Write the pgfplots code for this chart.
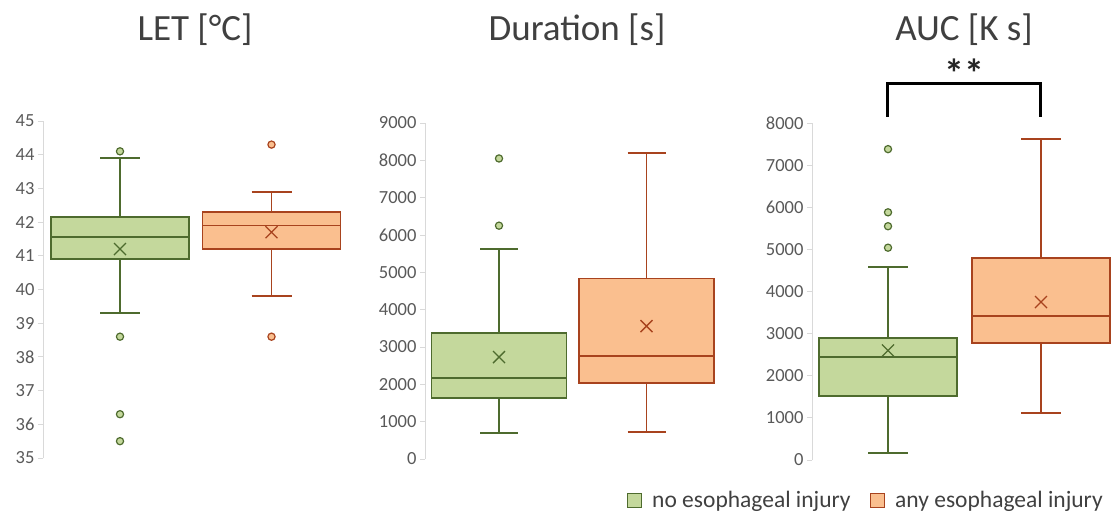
\documentclass[border=0pt]{standalone}
\usepackage{fontspec}
\setmainfont{Carlito}
\usepackage{pgfplots}
\pgfplotsset{compat=1.18}
\definecolor{gFill}{HTML}{C4D89C}
\definecolor{gEdge}{HTML}{4E6B2E}
\definecolor{oFill}{HTML}{FABF8F}
\definecolor{oEdge}{HTML}{A8431E}
\definecolor{tickgray}{HTML}{595959}
\definecolor{axgray}{HTML}{D9D9D9}
\definecolor{titlegray}{HTML}{404040}
\pgfplotsset{
  panel/.style={
    scale only axis,
    anchor=south west,
    axis x line=none,
    axis y line*=left,
    y axis line style={draw=axgray, line width=1bp},
    ytick style={draw=axgray, line width=1bp},
    tick align=outside,
    major tick length=5bp,
    xmin=0,
    enlarge x limits=false,
    clip=false,
    /pgf/number format/assume math mode=true,
    /pgf/number format/1000 sep={},
    yticklabel style={font=\fontsize{18.5bp}{20bp}\selectfont, text=tickgray},
  },
  gbox/.style={draw=gEdge, fill=gFill, line width=1.6bp, solid, mark=none},
  obox/.style={draw=oEdge, fill=oFill, line width=1.6bp, solid, mark=none},
  gline/.style={draw=gEdge, line width=1.6bp, solid, mark=none},
  oline/.style={draw=oEdge, line width=1.6bp, solid, mark=none},
  gmean/.style={only marks, mark=x, mark size=8.5bp, draw=gEdge, line width=1.3bp},
  omean/.style={only marks, mark=x, mark size=8.5bp, draw=oEdge, line width=1.3bp},
  gout/.style={only marks, mark=*, mark size=3.6bp, draw=gEdge, fill=gFill, line width=1.2bp},
  oout/.style={only marks, mark=*, mark size=3.6bp, draw=oEdge, fill=oFill, line width=1.2bp},
}
\begin{document}
\begin{tikzpicture}
\path[use as bounding box] (0,0) rectangle (1111bp,-515bp);

% ---------- LET ----------  (centres 77, 228.5; half box 69; half cap 20)
\begin{axis}[panel, at={(43bp,-458bp)}, width=306bp, height=337bp,
  xmax=306, ymin=35, ymax=45, ytick distance=1]
% no esophageal injury
\addplot[gline] coordinates {(77,42.15) (77,43.9)};
\addplot[gline] coordinates {(57,43.9) (97,43.9)};
\addplot[gline] coordinates {(77,40.9) (77,39.3)};
\addplot[gline] coordinates {(57,39.3) (97,39.3)};
\addplot[gbox] coordinates {(8,40.9) (146,40.9) (146,42.15) (8,42.15)} -- cycle;
\addplot[gline] coordinates {(8,41.55) (146,41.55)};
% any esophageal injury
\addplot[oline] coordinates {(228.5,42.3) (228.5,42.9)};
\addplot[oline] coordinates {(208.5,42.9) (248.5,42.9)};
\addplot[oline] coordinates {(228.5,41.2) (228.5,39.8)};
\addplot[oline] coordinates {(208.5,39.8) (248.5,39.8)};
\addplot[obox] coordinates {(159.5,41.2) (297.5,41.2) (297.5,42.3) (159.5,42.3)} -- cycle;
\addplot[oline] coordinates {(159.5,41.9) (297.5,41.9)};
\addplot[gmean] coordinates {(77,41.2)};
\addplot[omean] coordinates {(228.5,41.7)};
\addplot[gout] coordinates {(77,44.1) (77,38.6) (77,36.3) (77,35.5)};
\addplot[oout] coordinates {(228.5,44.3) (228.5,38.6)};
\end{axis}

% ---------- Duration ----------  (centres 74, 221.5; half box 67.5; half cap 19)
\begin{axis}[panel, at={(425bp,-459bp)}, width=297bp, height=336bp,
  xmax=297, ymin=0, ymax=9000, ytick distance=1000]
\addplot[gline] coordinates {(74,3380) (74,5630)};
\addplot[gline] coordinates {(55,5630) (93,5630)};
\addplot[gline] coordinates {(74,1640) (74,700)};
\addplot[gline] coordinates {(55,700) (93,700)};
\addplot[gbox] coordinates {(6.5,1640) (141.5,1640) (141.5,3380) (6.5,3380)} -- cycle;
\addplot[gline] coordinates {(6.5,2170) (141.5,2170)};
\addplot[oline] coordinates {(221.5,4830) (221.5,8200)};
\addplot[oline] coordinates {(202.5,8200) (240.5,8200)};
\addplot[oline] coordinates {(221.5,2040) (221.5,730)};
\addplot[oline] coordinates {(202.5,730) (240.5,730)};
\addplot[obox] coordinates {(154,2040) (289,2040) (289,4830) (154,4830)} -- cycle;
\addplot[oline] coordinates {(154,2760) (289,2760)};
\addplot[gmean] coordinates {(74,2730)};
\addplot[omean] coordinates {(221.5,3560)};
\addplot[gout] coordinates {(74,8050) (74,6250)};
\end{axis}

% ---------- AUC ----------  (centres 76, 229; half box 69; half cap 20)
\begin{axis}[panel, at={(812bp,-460bp)}, width=299bp, height=337bp,
  xmax=299, ymin=0, ymax=8000, ytick distance=1000]
\addplot[gline] coordinates {(76,2900) (76,4580)};
\addplot[gline] coordinates {(56,4580) (96,4580)};
\addplot[gline] coordinates {(76,1520) (76,160)};
\addplot[gline] coordinates {(56,160) (96,160)};
\addplot[gbox] coordinates {(7,1520) (145,1520) (145,2900) (7,2900)} -- cycle;
\addplot[gline] coordinates {(7,2450) (145,2450)};
\addplot[oline] coordinates {(229,4800) (229,7620)};
\addplot[oline] coordinates {(209,7620) (249,7620)};
\addplot[oline] coordinates {(229,2780) (229,1120)};
\addplot[oline] coordinates {(209,1120) (249,1120)};
\addplot[obox] coordinates {(160,2780) (298,2780) (298,4800) (160,4800)} -- cycle;
\addplot[oline] coordinates {(160,3420) (298,3420)};
\addplot[gmean] coordinates {(76,2600)};
\addplot[omean] coordinates {(229,3750)};
\addplot[gout] coordinates {(76,7380) (76,5880) (76,5550) (76,5040)};
\draw[black, line width=3bp] (axis cs:75,8150) -- (axis cs:75,8930) -- (axis cs:228,8930) -- (axis cs:228,8150);
\node[font=\fontsize{40bp}{42bp}\selectfont\bfseries, text=black!85, anchor=base, inner sep=0] at (axis cs:152,8840) {**};
\end{axis}

% ---------- titles ----------
\begin{scope}[every node/.style={font=\fontsize{37bp}{40bp}\selectfont, text=titlegray, anchor=base, inner sep=0}]
\node at (195bp,-40bp) {LET [°C]};
\node at (577bp,-40bp) {Duration [s]};
\node at (964bp,-40bp) {AUC [K s]};
\end{scope}

% ---------- legend ----------
\draw[gEdge, fill=gFill, line width=1bp] (627bp,-493bp) rectangle (641bp,-507bp);
\node[anchor=base west, inner sep=0, font=\fontsize{23.5bp}{25bp}\selectfont, text=titlegray] at (652bp,-507bp) {no esophageal injury};
\draw[oEdge, fill=oFill, line width=1bp] (870bp,-493bp) rectangle (884bp,-507bp);
\node[anchor=base west, inner sep=0, font=\fontsize{23.5bp}{25bp}\selectfont, text=titlegray] at (895bp,-507bp) {any esophageal injury};
\end{tikzpicture}
\end{document}
